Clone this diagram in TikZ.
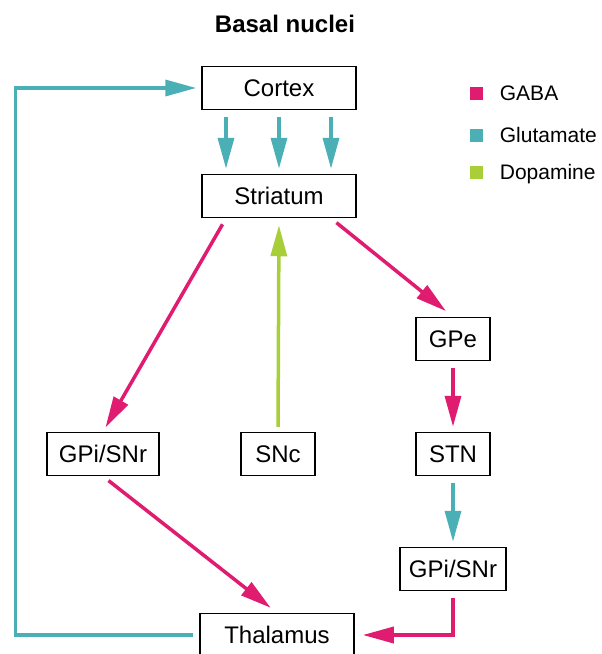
\documentclass[tikz,border=0pt]{standalone}
\usepackage{fontspec}
\setmainfont{Liberation Sans}
\usepackage{tikz}
\usetikzlibrary{arrows.meta}
\usetikzlibrary{positioning}
\usepackage{xcolor}
\definecolor{gaba}{RGB}{224,28,112}
\definecolor{glutamate}{RGB}{74,176,182}
\definecolor{dopamine}{RGB}{168,206,58}

\begin{document}
\begin{tikzpicture}[x = 1pt, y = -1pt,
  box/.style = {draw, line width = 1.5pt, minimum height = 43pt, inner sep = 0pt,
    text height = 17pt, text depth = 0pt, font = \fontsize{24}{28}\selectfont},
  widebox/.style = {box, minimum width = 154pt},
  smallbox/.style = {box, minimum width = 74pt},
  gpibox/.style = {box, minimum width = #1},
  link/.style = {line width = 3.5pt, shorten <=7pt, shorten >=5pt,
    -{Triangle[length = 31pt, width = 16pt]}},
  key/.style = {fill = #1, minimum size = 13pt, inner sep = 0pt},
  legendtext/.style = {inner sep = 0pt, text height = 15pt, text depth = 0pt,
    font = \fontsize{21}{25}\selectfont}
]
\useasboundingbox (0,0) rectangle (602,654);
\node[font = \bfseries\fontsize{24}{28}\selectfont] (title) at (285,24) {Basal nuclei};

\node[widebox] (cortex) at (279,88) {Cortex};
\node[widebox] (striatum) at (279,196) {Striatum};
\node[smallbox] (gpe) at (453,339) {GPe};
\node[smallbox] (stn) at (453,454) {STN};
\node[gpibox = 112pt] (gpi1) at (103,454) {GPi/SNr};
\node[smallbox] (snc) at (278,454) {SNc};
\node[gpibox = 106pt] (gpi2) at (453,569) {GPi/SNr};
\node[widebox] (thalamus) at (277,635) {Thalamus};

\node[key = gaba] (kgaba) at (476,93) {};
\node[key = glutamate] (kglu) at (476,135) {};
\node[key = dopamine] (kdopa) at (476,172) {};
\node[legendtext, right = 17pt of kgaba] {GABA};
\node[legendtext, right = 17pt of kglu] {Glutamate};
\node[legendtext, right = 17pt of kdopa] {Dopamine};

\foreach \dx in {-53, 0, 52}
  \draw[link, glutamate] ([xshift = \dx pt]cortex.south) -- ([xshift = \dx pt]striatum.north);
\draw[link, gaba] ([xshift = -53pt]striatum.south) -- (gpi1.north);
\draw[link, gaba, shorten >=9pt] ([xshift = 52pt]striatum.south) -- (gpe.north);
\draw[link, dopamine, shorten <=5pt, shorten >=7pt] (snc.north) -- (striatum.south);
\draw[link, gaba] (gpe.south) -- (stn.north);
\draw[link, glutamate] (stn.south) -- (gpi2.north);
\draw[link, gaba, shorten >=8pt] (gpi1.south) -- (thalamus.north);
\draw[link, gaba, shorten >=8pt] (gpi2.south) |- (thalamus.east);
\draw[link, glutamate, shorten <=6pt] (thalamus.west) -| ([xshift = -186pt]cortex.west) -- (cortex.west);
\end{tikzpicture}
\end{document}
